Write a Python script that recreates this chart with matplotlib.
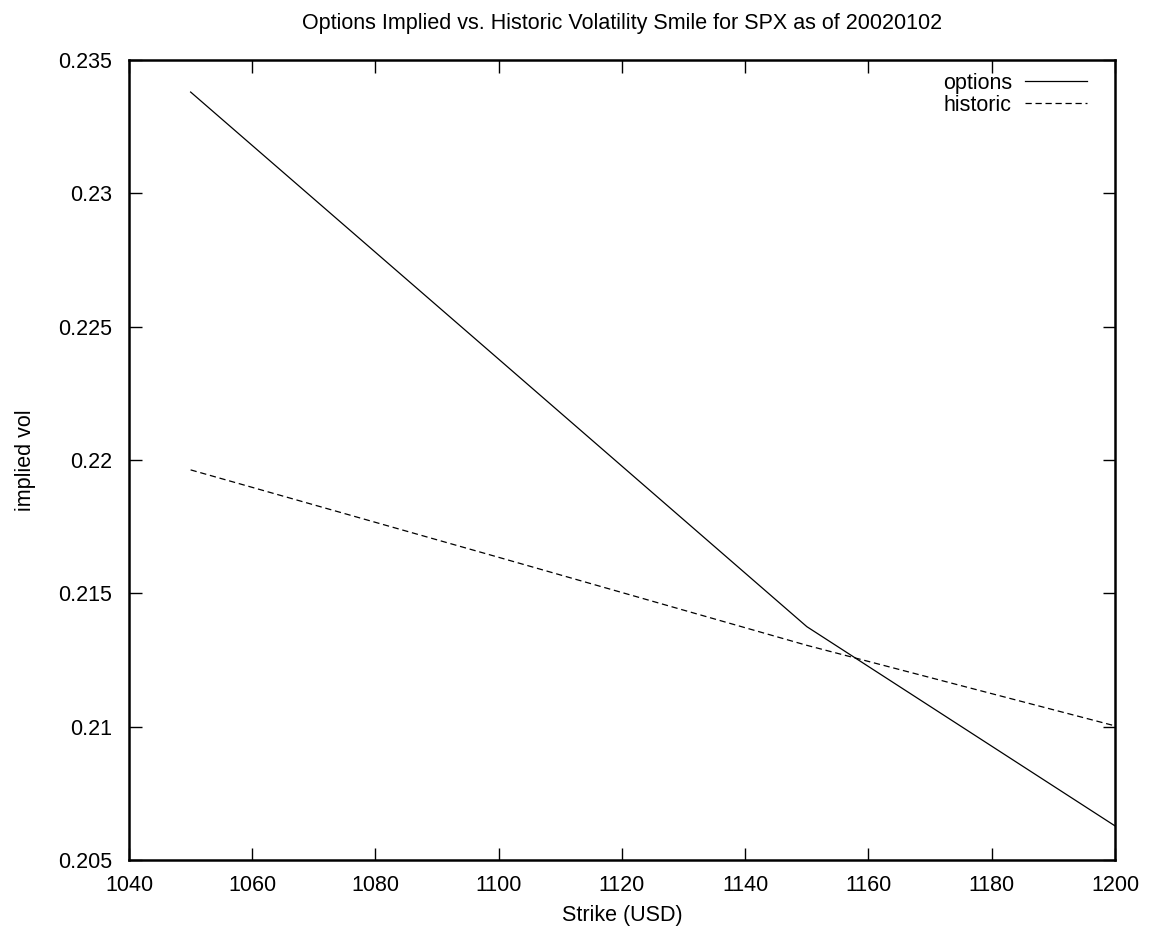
import matplotlib
matplotlib.use("Agg")
import matplotlib.pyplot as plt
from matplotlib.ticker import FuncFormatter, MultipleLocator

plt.rcParams["font.family"] = ["Liberation Sans", "DejaVu Sans"]

# 行使価格とボラティリティ
strike = [1050, 1100, 1150, 1200]
options_vol = [0.2338, 0.22378, 0.21375, 0.20628]
historic_vol = [0.21963, 0.21635, 0.21305, 0.21003]

fig = plt.figure(figsize=(11.59, 9.44), dpi=100)
ax = fig.add_axes([0.1113, 0.0890, 0.8507, 0.8474])

ax.plot(strike, options_vol, color="black", lw=0.9, label="options")
ax.plot(strike, historic_vol, color="black", lw=0.9, ls=(0, (5, 3)), label="historic")

ax.set_xlim(1040, 1200)
ax.set_ylim(0.205, 0.235)
ax.xaxis.set_major_locator(MultipleLocator(20))
ax.yaxis.set_major_locator(MultipleLocator(0.005))
ax.yaxis.set_major_formatter(FuncFormatter(lambda v, p: "%g" % round(v, 4)))
ax.tick_params(direction="in", length=9, width=1, top=True, right=True,
               labelsize=15.5)
ax.tick_params(axis="x", pad=11)
ax.tick_params(axis="y", pad=12)
for s in ax.spines.values():
    s.set_linewidth(1.8)

ax.set_xlabel("Strike (USD)", fontsize=15.5, labelpad=6)
ax.set_ylabel("implied vol", fontsize=15.5, labelpad=16)
ax.set_title("Options Implied vs. Historic Volatility Smile for SPX as of 20020102",
             fontsize=15.5, pad=22)

ax.legend(loc="upper right", bbox_to_anchor=(0.985, 1.0), frameon=False,
          markerfirst=False, fontsize=15.5, handlelength=2.9, handletextpad=0.6,
          labelspacing=0.05, borderaxespad=0.2, borderpad=0.4)

fig.savefig("out.png", dpi=100)
